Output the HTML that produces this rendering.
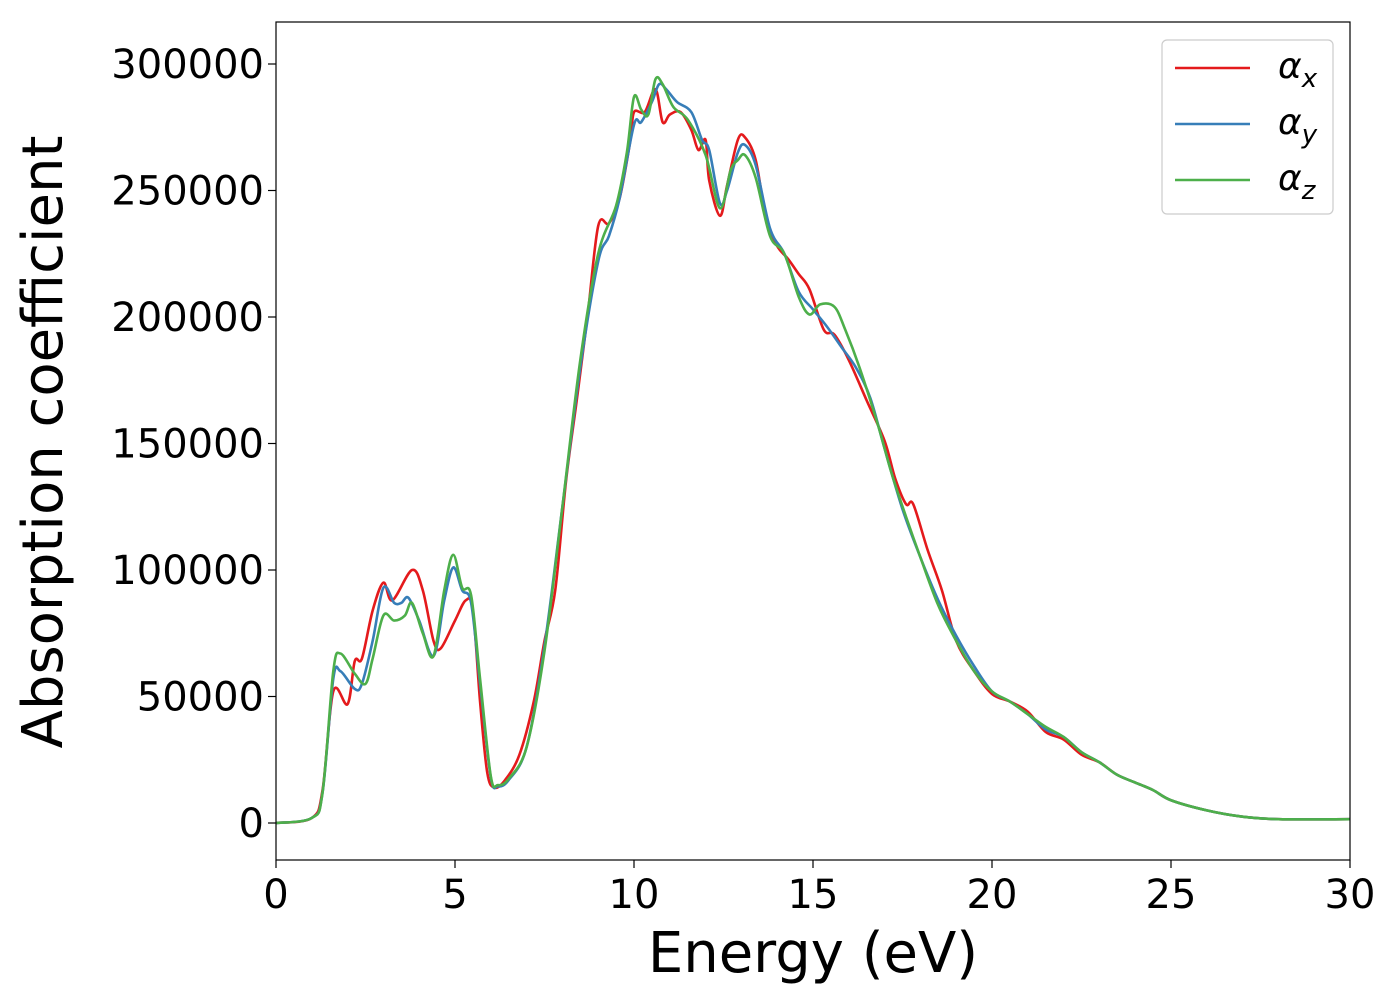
<!DOCTYPE html>
<html><head><meta charset="utf-8"><style>
body{margin:0;background:#fff;width:1400px;height:1000px;overflow:hidden}
svg text{font-family:"DejaVu Sans","Liberation Sans",sans-serif}
</style></head><body>
<svg id="chart" width="1400" height="1000" xmlns="http://www.w3.org/2000/svg">
<g id="plot"></g>
</svg>
<script>
const xTicks=[0,5,10,15,20,25,30];
const yTicks=[0,50000,100000,150000,200000,250000,300000];
const seriesNames=["x","y","z"];
const seriesColors=["#e41a1c","#377eb8","#4daf4a"];
const eX=[0,1.0,1.3,1.6,2.0,2.2,2.4,2.7,3.0,3.25,3.8,4.1,4.4,4.6,5.0,5.3,5.5,5.7,5.9,6.1,6.4,6.8,7.2,7.5,7.8,8.1,8.4,8.7,9.0,9.3,9.6,9.9,10.0,10.3,10.6,10.8,11.0,11.3,11.6,11.8,12.0,12.1,12.4,12.6,12.9,13.1,13.4,13.7,14.0,14.3,14.6,14.9,15.3,15.6,16.0,16.5,17.0,17.3,17.6,17.8,18.2,18.6,19.0,19.5,20.0,20.5,21.0,21.5,22.0,22.5,23.0,23.5,24.0,24.5,25.0,26.0,27.0,28.0,30];
const vX=[0,2000,13000,52000,47000,64000,65000,84000,95000,88000,100000,92000,72000,69000,80000,88000,84000,48000,20000,14000,17000,27000,48000,72000,92000,135000,167000,200000,236000,237000,247000,270000,281000,281000,290000,277000,280000,281000,274000,266000,270000,254000,240000,252000,270000,271000,262000,238000,228000,223000,217000,211000,195000,193000,183000,167000,151000,136000,126000,126000,108000,92000,72000,60000,51000,48000,44000,36000,33000,27000,24000,19000,16000,13000,9000,5000,2500,1500,1500];
const eY=[0,1.0,1.3,1.6,1.8,2.2,2.4,2.7,3.0,3.3,3.5,3.7,4.0,4.4,4.7,4.95,5.2,5.45,5.7,6.0,6.2,6.5,7.0,7.5,8.0,8.5,9.0,9.3,9.6,10.0,10.2,10.5,10.7,10.9,11.2,11.6,11.9,12.1,12.4,12.6,12.9,13.1,13.4,13.8,14.2,14.6,15.0,15.4,15.8,16.2,16.6,17.0,17.5,18.0,18.5,19.0,19.5,20.0,20.5,21.0,21.5,22.0,22.5,23.0,23.5,24.0,24.5,25.0,26.0,27.0,28.0,30];
const vY=[0,2000,12000,57000,60000,53000,55000,72000,93000,87000,87000,89000,80000,66000,88000,101000,92000,87000,55000,18000,14500,17000,30000,70000,125000,180000,222000,232000,247000,276000,277000,285000,292000,290000,285000,281000,270000,266000,245000,250000,265000,268000,260000,235000,225000,210000,203000,196000,188000,180000,168000,148000,124000,105000,88000,74000,62000,52000,48000,43000,37000,34000,28000,24000,19000,16000,13000,9000,5000,2500,1500,1500];
const eZ=[0,1.0,1.3,1.6,1.8,2.2,2.5,2.7,3.0,3.3,3.6,3.8,4.1,4.4,4.7,4.95,5.2,5.45,5.7,6.0,6.2,6.5,7.0,7.5,8.0,8.5,9.0,9.5,9.8,10.0,10.2,10.4,10.6,10.8,11.1,11.5,12.0,12.4,12.7,12.9,13.1,13.4,13.8,14.2,14.6,14.9,15.2,15.6,15.9,16.3,16.8,17.2,17.6,18.0,18.5,19.0,19.5,20.0,20.5,21.0,21.5,22.0,22.5,23.0,23.5,24.0,24.5,25.0,26.0,27.0,28.0,30];
const vZ=[0,2000,12000,60000,67000,59000,55000,65000,82000,80000,82000,87000,75000,66000,92000,106000,93000,90000,57000,18500,15000,17500,30000,68000,125000,183000,225000,244000,265000,287000,282000,280000,294000,292000,283000,278000,264000,243000,258000,262000,264000,255000,232000,225000,208000,201000,205000,204000,195000,180000,158000,138000,121000,105000,86000,72000,60000,52000,48000,43000,38000,34000,28000,24000,19000,16000,13000,9000,5000,2500,1500,1500];
const energies=[eX,eY,eZ], values=[vX,vY,vZ];

const L=276,R=1350,T=22,B=860;
const sx=e=>L+(e-0)/(30-0)*(R-L);
const sy=v=>823-(v/300000)*(823-64);
const NS="http://www.w3.org/2000/svg";
const svg=document.getElementById('chart');
function mk(tag,attrs,parent){const el=document.createElementNS(NS,tag);for(const k in attrs)el.setAttribute(k,attrs[k]);(parent||svg).appendChild(el);return el;}

// series
const plot=document.getElementById('plot');
energies.forEach((es,i)=>{
  const pts=es.map((e,j)=>[sx(e),sy(values[i][j])]);
  let d="M"+pts[0][0]+","+pts[0][1];
  for(let j=0;j<pts.length-1;j++){
    const p0=pts[j-1]||pts[j],p1=pts[j],p2=pts[j+1],p3=pts[j+2]||p2;
    const c1=[p1[0]+(p2[0]-p0[0])/6,p1[1]+(p2[1]-p0[1])/6];
    const c2=[p2[0]-(p3[0]-p1[0])/6,p2[1]-(p3[1]-p1[1])/6];
    d+=` C${c1[0]},${c1[1]} ${c2[0]},${c2[1]} ${p2[0]},${p2[1]}`;
  }
  const p=mk('path',{d:d,fill:'none',stroke:seriesColors[i],'stroke-width':2.6,'stroke-linejoin':'round'},plot);
  
  
});

// frame
const fr=mk('rect',{x:L,y:T,width:R-L,height:B-T,fill:'none',stroke:'#000','stroke-width':1.2});



// ticks
xTicks.forEach(t=>{
  const x=sx(t);
  const tk=mk('line',{x1:x,x2:x,y1:B,y2:B+8,stroke:'#000','stroke-width':1.2});
  
  
  const tx=mk('text',{x:x,y:B+48,'font-size':40,'text-anchor':'middle',fill:'#000'});
  tx.textContent=t;
  
  
});
yTicks.forEach(t=>{
  const y=sy(t);
  const tk=mk('line',{x1:L-8,x2:L,y1:y,y2:y,stroke:'#000','stroke-width':1.2});
  
  
  const tx=mk('text',{x:L-12,y:y+14,'font-size':40,'text-anchor':'end',fill:'#000'});
  tx.textContent=t;
  
  
});

// axis titles
const xt=mk('text',{x:813,y:972,'font-size':56,'text-anchor':'middle',fill:'#000'});
xt.textContent="Energy (eV)";


const yt=mk('text',{x:0,y:0,'font-size':56,'text-anchor':'middle',fill:'#000',transform:'translate(62,442) rotate(-90)'});
yt.textContent="Absorption coefficient";



// legend
const lg=mk('g',{});


mk('rect',{x:1162,y:40,width:171,height:174,rx:5,fill:'#fff',stroke:'#ccc','stroke-width':1.2},lg);
const ly=[68,124,180];
seriesNames.forEach((n,i)=>{
  const ln=mk('line',{x1:1175,x2:1250,y1:ly[i],y2:ly[i],stroke:seriesColors[i],'stroke-width':2.6},lg);
  
  
  const tx=mk('text',{x:1278,y:ly[i]+10,'font-size':36,'font-style':'italic',fill:'#000'},lg);
  
  
  tx.textContent="α";
  const sub=mk('tspan',{'font-size':26,dy:9},tx);
  sub.textContent=n;
});
</script>
</body></html>
